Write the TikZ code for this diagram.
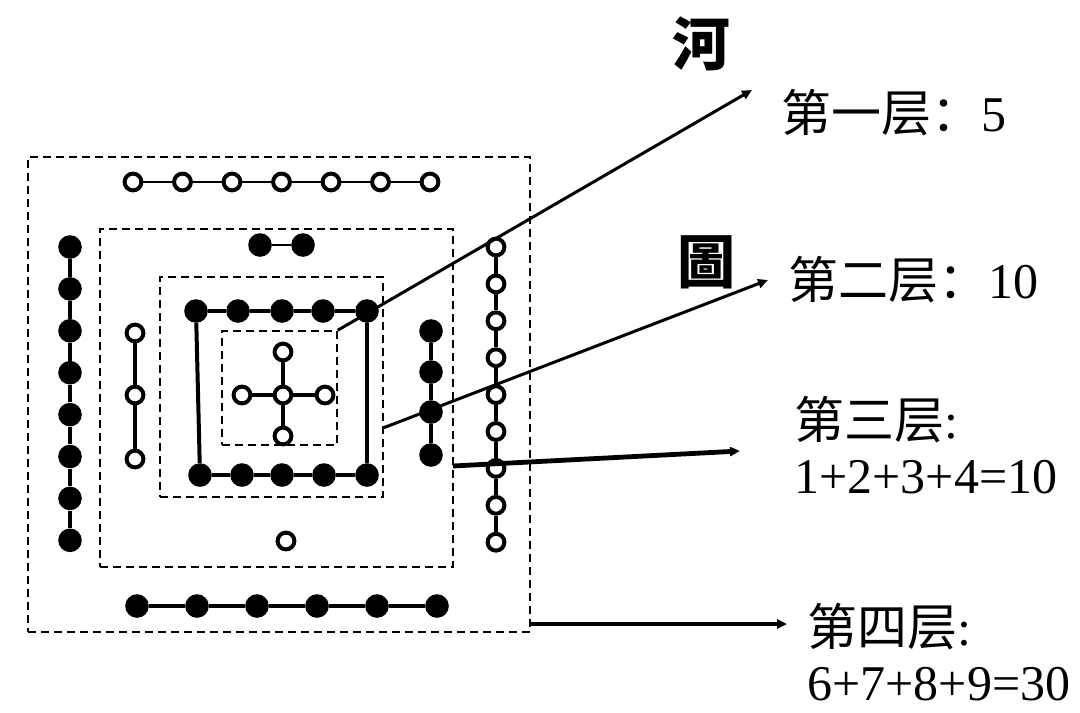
\documentclass[tikz,border=0pt]{standalone}
\usepackage{fontspec}
\setmainfont{Liberation Serif}
\newfontfamily\cjk{Noto Sans CJK SC}
\usetikzlibrary{arrows.meta}
\tikzset{>/.tip={Triangle[length=5pt,width=4.5pt]},
  odd/.style={circle,draw,line width=2pt,fill=white,minimum size=8.4pt,inner sep=0pt},
  even/.style={circle,fill=black,minimum size=11.8pt,inner sep=0pt},
  layerbox/.style={draw,line width=0.75pt,dash pattern=on 4pt off 2.5pt,inner sep=0pt},
  layertext/.style={font=\fontsize{25pt}{27.5pt}\selectfont,align=left,anchor=west,inner sep=0pt}}

\begin{document}
\begin{tikzpicture}[x=0.5pt,y=-0.5pt]
\useasboundingbox (0,0) rectangle (1080,712);

\node[layerbox,minimum width=251pt,minimum height=237.5pt] (L4) at (279,394.5) {};
\node[layerbox,minimum width=176.5pt,minimum height=169pt] (L3) at (276.5,398) {};
\node[layerbox,minimum width=111.5pt,minimum height=110pt] (L2) at (271.5,387) {};
\node[layerbox,minimum width=57.5pt,minimum height=57pt] (L1) at (279.5,388) {};

% centre: 5
\node[odd] (c0) at (283,395) {};
\node[odd] (c1) at (283,352) {};
\node[odd] (c2) at (325,395) {};
\node[odd] (c3) at (283,436) {};
\node[odd] (c4) at (242,395) {};
\foreach \i in {1,...,4} \draw[line width=1.6pt] (c0) -- (c\i);

% square: 10
\foreach \x [count=\i] in {196,238,282,323,367} \node[even] (s\i) at (\x,311) {};
\foreach \x [count=\i from 6] in {200,242,282,324,367} \node[even] (s\i) at (\x,475) {};
\foreach \i [count=\j from 2] in {1,2,3,4} \draw[line width=2pt] (s\i) -- (s\j);
\foreach \i [count=\j from 7] in {6,7,8,9} \draw[line width=2pt] (s\i) -- (s\j);
\draw[line width=2pt] (s1) -- (s6);
\draw[line width=2pt] (s5) -- (s10);

% third layer: 1 2 3 4
\node[odd] (b1) at (286,541) {};
\node[even] (p1) at (260,245) {};
\node[even] (p2) at (303,245) {};
\draw[line width=0.8pt] (p1) -- (p2);
\foreach \y [count=\i] in {333,395,459} \node[odd] (l\i) at (135,\y) {};
\foreach \i [count=\j from 2] in {1,2} \draw[line width=1.6pt] (l\i) -- (l\j);
\foreach \y [count=\i] in {331,372,412,455} \node[even] (r\i) at (431,\y) {};
\foreach \i [count=\j from 2] in {1,2,3} \draw[line width=1.6pt] (r\i) -- (r\j);

% fourth layer: 6 7 8 9
\foreach \i in {1,...,7} \node[odd] (t\i) at (83.5+49.5*\i,182) {};
\foreach \i [count=\j from 2] in {1,...,6} \draw[line width=1pt] (t\i) -- (t\j);
\foreach \i in {1,...,8} \node[even] (w\i) at (70,205.1+41.9*\i) {};
\foreach \i [count=\j from 2] in {1,...,7} \draw[line width=2.2pt] (w\i) -- (w\j);
\foreach \i in {1,...,9} \node[odd] (e\i) at (496,210.1+36.9*\i) {};
\foreach \i [count=\j from 2] in {1,...,8} \draw[line width=1.9pt] (e\i) -- (e\j);
\foreach \i in {1,...,6} \node[even] (d\i) at (77+60*\i,606) {};
\foreach \i [count=\j from 2] in {1,...,5} \draw[line width=1.8pt] (d\i) -- (d\j);

% title
\node[font=\cjk\bfseries\fontsize{29pt}{32pt}\selectfont] (he) at (701,44) {河};
\node[font=\cjk\bfseries\fontsize{29pt}{32pt}\selectfont] (tu) at (706,262) {圖};

% labels
\node[layertext] (n1) at (781,113) {{\cjk 第一层：}5};
\node[layertext] (n2) at (788,280) {{\cjk 第二层：}10};
\node[layertext] (n3) at (794,445) {{\cjk 第三层}:\\1+2+3+4=10};
\node[layertext] (n4) at (807,652) {{\cjk 第四层}:\\6+7+8+9=30};

\coordinate (s2) at (383,428);
\coordinate (s3) at (453,466);
\coordinate (s4) at (530,624);
\coordinate (f1) at (752,90);
\coordinate (f2) at (768,280);
\coordinate (f3) at (740,451);
\coordinate (f4) at (787,624);
\draw[->,line width=1.5pt] (L1.north east) -- (f1);
\draw[->,line width=1.5pt] (s2) -- (f2);
\draw[->,line width=2.4pt] (s3) -- (f3);
\draw[->,line width=2.1pt] (s4) -- (f4);
\end{tikzpicture}
\end{document}
